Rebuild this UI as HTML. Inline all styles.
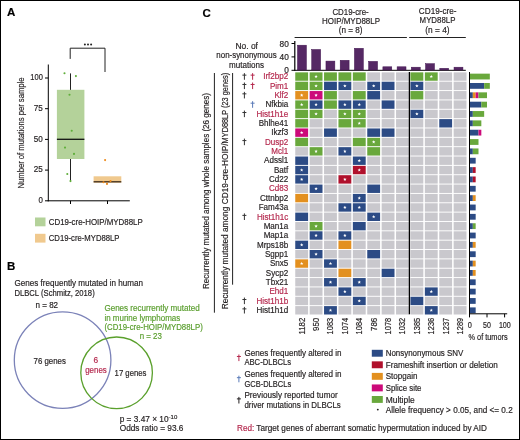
<!DOCTYPE html><html><head><meta charset="utf-8"><style>html,body{margin:0;padding:0;background:#fff}svg{display:block;will-change:transform}text{font-family:"Liberation Sans",sans-serif}</style></head><body>
<svg width="520" height="440" viewBox="0 0 520 440">
<rect x="0.5" y="0.5" width="519" height="439" fill="#fff" stroke="#000" stroke-width="1"/>
<text x="7.1" y="16.2" font-size="11.5" font-weight="bold" fill="#000" stroke="#000" stroke-width="0.18">A</text>
<text x="7.1" y="270.3" font-size="11.5" font-weight="bold" fill="#000" stroke="#000" stroke-width="0.18">B</text>
<text x="202.4" y="16.6" font-size="11.5" font-weight="bold" fill="#000" stroke="#000" stroke-width="0.18">C</text>
<g>
<line x1="48.3" y1="64.5" x2="48.3" y2="201.3" stroke="#000" stroke-width="1"/>
<line x1="47.8" y1="200.8" x2="129.8" y2="200.8" stroke="#000" stroke-width="1"/>
<line x1="45" y1="200.8" x2="48.3" y2="200.8" stroke="#000" stroke-width="1"/>
<text x="42.8" y="202.9" font-size="8.3" text-anchor="end" fill="#231f20" stroke="#231f20" stroke-width="0.18" textLength="4.4" lengthAdjust="spacingAndGlyphs">0</text>
<line x1="45" y1="170.1" x2="48.3" y2="170.1" stroke="#000" stroke-width="1"/>
<text x="42.8" y="172.2" font-size="8.3" text-anchor="end" fill="#231f20" stroke="#231f20" stroke-width="0.18" textLength="9" lengthAdjust="spacingAndGlyphs">25</text>
<line x1="45" y1="139.4" x2="48.3" y2="139.4" stroke="#000" stroke-width="1"/>
<text x="42.8" y="141.5" font-size="8.3" text-anchor="end" fill="#231f20" stroke="#231f20" stroke-width="0.18" textLength="9" lengthAdjust="spacingAndGlyphs">50</text>
<line x1="45" y1="108.7" x2="48.3" y2="108.7" stroke="#000" stroke-width="1"/>
<text x="42.8" y="110.8" font-size="8.3" text-anchor="end" fill="#231f20" stroke="#231f20" stroke-width="0.18" textLength="9" lengthAdjust="spacingAndGlyphs">75</text>
<line x1="45" y1="78.0" x2="48.3" y2="78.0" stroke="#000" stroke-width="1"/>
<text x="42.8" y="80.1" font-size="8.3" text-anchor="end" fill="#231f20" stroke="#231f20" stroke-width="0.18" textLength="12.5" lengthAdjust="spacingAndGlyphs">100</text>
<line x1="70.5" y1="200.8" x2="70.5" y2="204" stroke="#000" stroke-width="1"/>
<line x1="107.5" y1="200.8" x2="107.5" y2="204" stroke="#000" stroke-width="1"/>
<text transform="translate(23.5,133) rotate(-90)" font-size="8.2" text-anchor="middle" fill="#231f20" stroke="#231f20" stroke-width="0.18" textLength="111" lengthAdjust="spacingAndGlyphs">Number of mutations per sample</text>
<line x1="70.5" y1="73.4" x2="70.5" y2="181.6" stroke="#222" stroke-width="1"/>
<rect x="56.9" y="89.8" width="27.5" height="69.2" fill="#b4d29a"/>
<line x1="56.9" y1="139.3" x2="84.4" y2="139.3" stroke="#111" stroke-width="1.3"/>
<circle cx="64.5" cy="73.2" r="1.05" fill="#5fae3a"/>
<circle cx="75.9" cy="76.1" r="1.05" fill="#5fae3a"/>
<circle cx="69.5" cy="94.8" r="1.05" fill="#5fae3a"/>
<circle cx="71.7" cy="130.8" r="1.05" fill="#5fae3a"/>
<circle cx="65" cy="147.6" r="1.05" fill="#5fae3a"/>
<circle cx="74" cy="153.9" r="1.05" fill="#5fae3a"/>
<circle cx="67.3" cy="174" r="1.05" fill="#5fae3a"/>
<circle cx="70.5" cy="181.1" r="1.05" fill="#5fae3a"/>
<rect x="93.6" y="176.3" width="27.7" height="6.4" fill="#f0c98e"/>
<line x1="93.6" y1="181.8" x2="121.3" y2="181.8" stroke="#3a2a1a" stroke-width="1.3"/>
<circle cx="105.1" cy="160.1" r="1.05" fill="#ee8a1a"/>
<circle cx="103.5" cy="182.3" r="1.05" fill="#ee8a1a"/>
<circle cx="107" cy="183.9" r="1.05" fill="#ee8a1a"/>
<circle cx="110.5" cy="181.1" r="1.05" fill="#ee8a1a"/>
<path d="M70.2 58.9 V48.2 H105 V72" fill="none" stroke="#222" stroke-width="1"/>
<circle cx="84.9" cy="44.5" r="1.0" fill="#222"/>
<circle cx="88.0" cy="44.5" r="1.0" fill="#222"/>
<circle cx="91.1" cy="44.5" r="1.0" fill="#222"/>
<rect x="35" y="217.5" width="10.5" height="8.8" fill="#b4d29a"/>
<text x="48.75" y="224.7" font-size="8.5" fill="#231f20" stroke="#231f20" stroke-width="0.18" textLength="94" lengthAdjust="spacingAndGlyphs">CD19-cre-HOIP/MYD88LP</text>
<rect x="35" y="233.8" width="10.5" height="8.8" fill="#f0c98e"/>
<text x="48.75" y="240.9" font-size="8.5" fill="#231f20" stroke="#231f20" stroke-width="0.18" textLength="70.75" lengthAdjust="spacingAndGlyphs">CD19-cre-MYD88LP</text>
</g>
<g>
<text x="14.4" y="285.9" font-size="8.3" fill="#231f20" stroke="#231f20" stroke-width="0.18" textLength="128.6" lengthAdjust="spacingAndGlyphs">Genes frequently mutated in human</text>
<text x="14.4" y="295.6" font-size="8.3" fill="#231f20" stroke="#231f20" stroke-width="0.18" textLength="80.3" lengthAdjust="spacingAndGlyphs">DLBCL (Schmitz, 2018)</text>
<text x="35.5" y="307.6" font-size="8.3" fill="#231f20" stroke="#231f20" stroke-width="0.18" textLength="22.6" lengthAdjust="spacingAndGlyphs">n = 82</text>
<text x="104.4" y="311" font-size="8.3" fill="#5a9e2e" stroke="#5a9e2e" stroke-width="0.18" textLength="95.3" lengthAdjust="spacingAndGlyphs">Genes recurrently mutated</text>
<text x="104.4" y="320.5" font-size="8.3" fill="#5a9e2e" stroke="#5a9e2e" stroke-width="0.18" textLength="75.9" lengthAdjust="spacingAndGlyphs">in murine lymphomas</text>
<text x="104.4" y="330" font-size="8.3" fill="#5a9e2e" stroke="#5a9e2e" stroke-width="0.18" textLength="98.4" lengthAdjust="spacingAndGlyphs">(CD19-cre-HOIP/MYD88LP)</text>
<text x="139.7" y="339.1" font-size="8.3" fill="#5a9e2e" stroke="#5a9e2e" stroke-width="0.18" textLength="22.2" lengthAdjust="spacingAndGlyphs">n = 23</text>
<circle cx="62.6" cy="360.1" r="48.3" fill="none" stroke="#7b82b8" stroke-width="1.3"/>
<circle cx="116.6" cy="372.8" r="35.8" fill="none" stroke="#5aa02c" stroke-width="1.3"/>
<text x="33.6" y="363.5" font-size="8.3" fill="#231f20" stroke="#231f20" stroke-width="0.18" textLength="32.3" lengthAdjust="spacingAndGlyphs">76 genes</text>
<text x="95.9" y="362.8" font-size="8.3" text-anchor="middle" fill="#b5294e" stroke="#b5294e" stroke-width="0.18">6</text>
<text x="85.2" y="372.5" font-size="8.3" fill="#b5294e" stroke="#b5294e" stroke-width="0.18" textLength="21.6" lengthAdjust="spacingAndGlyphs">genes</text>
<text x="114.6" y="375.7" font-size="8.3" fill="#231f20" stroke="#231f20" stroke-width="0.18" textLength="31.9" lengthAdjust="spacingAndGlyphs">17 genes</text>
<text x="119.7" y="422" font-size="8.3" fill="#231f20" stroke="#231f20" stroke-width="0.18">p = 3.47 × 10<tspan dy="-3" font-size="6">-10</tspan></text>
<text x="119.7" y="431.3" font-size="8.3" fill="#231f20" stroke="#231f20" stroke-width="0.18" textLength="63.8" lengthAdjust="spacingAndGlyphs">Odds ratio = 93.6</text>
</g>
<g>
<text x="350.6" y="14.9" font-size="8.5" text-anchor="middle" fill="#231f20" stroke="#231f20" stroke-width="0.18" textLength="36.3" lengthAdjust="spacingAndGlyphs">CD19-cre-</text>
<text x="351" y="23.8" font-size="8.5" text-anchor="middle" fill="#231f20" stroke="#231f20" stroke-width="0.18" textLength="58" lengthAdjust="spacingAndGlyphs">HOIP/MYD88LP</text>
<text x="350.6" y="33" font-size="8.5" text-anchor="middle" fill="#231f20" stroke="#231f20" stroke-width="0.18" textLength="23.75" lengthAdjust="spacingAndGlyphs">(n = 8)</text>
<text x="437.7" y="14.3" font-size="8.5" text-anchor="middle" fill="#231f20" stroke="#231f20" stroke-width="0.18" textLength="37.7" lengthAdjust="spacingAndGlyphs">CD19-cre-</text>
<text x="437.5" y="23.3" font-size="8.5" text-anchor="middle" fill="#231f20" stroke="#231f20" stroke-width="0.18" textLength="35.8" lengthAdjust="spacingAndGlyphs">MYD88LP</text>
<text x="437.5" y="33" font-size="8.5" text-anchor="middle" fill="#231f20" stroke="#231f20" stroke-width="0.18" textLength="24.3" lengthAdjust="spacingAndGlyphs">(n = 4)</text>
<line x1="294.6" y1="37.5" x2="406.9" y2="37.5" stroke="#222" stroke-width="1"/>
<line x1="409.2" y1="37.5" x2="465.8" y2="37.5" stroke="#222" stroke-width="1"/>
<text x="246.7" y="48.5" font-size="8.5" text-anchor="middle" fill="#231f20" stroke="#231f20" stroke-width="0.18" textLength="22.5" lengthAdjust="spacingAndGlyphs">No. of</text>
<text x="246.5" y="58.4" font-size="8.5" text-anchor="middle" fill="#231f20" stroke="#231f20" stroke-width="0.18" textLength="60.3" lengthAdjust="spacingAndGlyphs">non-synonymous</text>
<text x="246.5" y="67.5" font-size="8.5" text-anchor="middle" fill="#231f20" stroke="#231f20" stroke-width="0.18" textLength="34.9" lengthAdjust="spacingAndGlyphs">mutations</text>
<line x1="294.8" y1="41.1" x2="294.8" y2="70.8" stroke="#000" stroke-width="1.2"/>
<line x1="294.4" y1="70.3" x2="465.8" y2="70.3" stroke="#000" stroke-width="1"/>
<line x1="291.5" y1="43.5" x2="294.9" y2="43.5" stroke="#000" stroke-width="1"/>
<text x="288.8" y="46.5" font-size="8.3" text-anchor="end" fill="#231f20" stroke="#231f20" stroke-width="0.18">80</text>
<line x1="291.5" y1="56.9" x2="294.9" y2="56.9" stroke="#000" stroke-width="1"/>
<text x="288.8" y="59.9" font-size="8.3" text-anchor="end" fill="#231f20" stroke="#231f20" stroke-width="0.18">40</text>
<line x1="291.5" y1="70.3" x2="294.9" y2="70.3" stroke="#000" stroke-width="1"/>
<text x="288.8" y="73.3" font-size="8.3" text-anchor="end" fill="#231f20" stroke="#231f20" stroke-width="0.18">0</text>
<rect x="297.50" y="45.20" width="8.9" height="24.80" fill="#552864" stroke="#40124f" stroke-width="0.5"/>
<rect x="311.73" y="49.50" width="8.9" height="20.50" fill="#552864" stroke="#40124f" stroke-width="0.5"/>
<rect x="325.96" y="61.10" width="8.9" height="8.90" fill="#552864" stroke="#40124f" stroke-width="0.5"/>
<rect x="340.19" y="60.30" width="8.9" height="9.70" fill="#552864" stroke="#40124f" stroke-width="0.5"/>
<rect x="354.42" y="48.30" width="8.9" height="21.70" fill="#552864" stroke="#40124f" stroke-width="0.5"/>
<rect x="368.65" y="61.40" width="8.9" height="8.60" fill="#552864" stroke="#40124f" stroke-width="0.5"/>
<rect x="382.88" y="66.80" width="8.9" height="3.20" fill="#552864" stroke="#40124f" stroke-width="0.5"/>
<rect x="397.11" y="66.80" width="8.9" height="3.20" fill="#552864" stroke="#40124f" stroke-width="0.5"/>
<rect x="411.34" y="67.20" width="8.9" height="2.80" fill="#552864" stroke="#40124f" stroke-width="0.5"/>
<rect x="425.57" y="63.70" width="8.9" height="6.30" fill="#552864" stroke="#40124f" stroke-width="0.5"/>
<rect x="439.80" y="68.30" width="8.9" height="1.70" fill="#552864" stroke="#40124f" stroke-width="0.5"/>
<rect x="454.03" y="67.20" width="8.9" height="2.80" fill="#552864" stroke="#40124f" stroke-width="0.5"/>
<rect x="295.25" y="72.35" width="12.85" height="8.4" fill="#69a83c"/>
<rect x="309.65" y="72.35" width="12.85" height="8.4" fill="#69a83c"/>
<polygon transform="translate(316.07,76.55)" points="0.00,-1.75 0.47,-0.65 1.66,-0.54 0.76,0.25 1.03,1.42 0.00,0.80 -1.03,1.42 -0.76,0.25 -1.66,-0.54 -0.47,-0.65" fill="#fff"/>
<rect x="324.05" y="72.35" width="12.85" height="8.4" fill="#69a83c"/>
<rect x="338.45" y="72.35" width="12.85" height="8.4" fill="#69a83c"/>
<rect x="352.85" y="72.35" width="12.85" height="8.4" fill="#69a83c"/>
<rect x="367.25" y="72.35" width="12.85" height="8.4" fill="#c9c8cd"/>
<rect x="381.65" y="72.35" width="12.85" height="8.4" fill="#c9c8cd"/>
<rect x="396.05" y="72.35" width="12.85" height="8.4" fill="#c9c8cd"/>
<rect x="410.45" y="72.35" width="12.85" height="8.4" fill="#69a83c"/>
<rect x="424.85" y="72.35" width="12.85" height="8.4" fill="#69a83c"/>
<polygon transform="translate(431.28,76.55)" points="0.00,-1.75 0.47,-0.65 1.66,-0.54 0.76,0.25 1.03,1.42 0.00,0.80 -1.03,1.42 -0.76,0.25 -1.66,-0.54 -0.47,-0.65" fill="#fff"/>
<rect x="439.25" y="72.35" width="12.85" height="8.4" fill="#c9c8cd"/>
<rect x="453.65" y="72.35" width="12.85" height="8.4" fill="#c9c8cd"/>
<text transform="translate(288.3,79.25) scale(0.94,1)" font-size="8.6" text-anchor="end" fill="#b5294e" stroke="#b5294e" stroke-width="0.18">Irf2bp2</text>
<path d="M244.40 73.15V79.75M242.40 75.13H246.40" stroke="#333" stroke-width="1.0" fill="none"/>
<path d="M252.60 73.15V79.75M250.60 75.13H254.60" stroke="#b5294e" stroke-width="1.0" fill="none"/>
<rect x="470.00" y="73.65" width="19.83" height="5.8" fill="#69a83c"/>
<rect x="295.25" y="81.70" width="12.85" height="8.4" fill="#69a83c"/>
<rect x="309.65" y="81.70" width="12.85" height="8.4" fill="#69a83c"/>
<polygon transform="translate(316.07,85.90)" points="0.00,-1.75 0.47,-0.65 1.66,-0.54 0.76,0.25 1.03,1.42 0.00,0.80 -1.03,1.42 -0.76,0.25 -1.66,-0.54 -0.47,-0.65" fill="#fff"/>
<rect x="324.05" y="81.70" width="12.85" height="8.4" fill="#2c4b85"/>
<rect x="338.45" y="81.70" width="12.85" height="8.4" fill="#2c4b85"/>
<polygon transform="translate(344.88,85.90)" points="0.00,-1.75 0.47,-0.65 1.66,-0.54 0.76,0.25 1.03,1.42 0.00,0.80 -1.03,1.42 -0.76,0.25 -1.66,-0.54 -0.47,-0.65" fill="#fff"/>
<rect x="352.85" y="81.70" width="12.85" height="8.4" fill="#c9c8cd"/>
<rect x="367.25" y="81.70" width="12.85" height="8.4" fill="#2c4b85"/>
<polygon transform="translate(373.68,85.90)" points="0.00,-1.75 0.47,-0.65 1.66,-0.54 0.76,0.25 1.03,1.42 0.00,0.80 -1.03,1.42 -0.76,0.25 -1.66,-0.54 -0.47,-0.65" fill="#fff"/>
<rect x="381.65" y="81.70" width="12.85" height="8.4" fill="#2c4b85"/>
<rect x="396.05" y="81.70" width="12.85" height="8.4" fill="#c9c8cd"/>
<rect x="410.45" y="81.70" width="12.85" height="8.4" fill="#2c4b85"/>
<polygon transform="translate(416.88,85.90)" points="0.00,-1.75 0.47,-0.65 1.66,-0.54 0.76,0.25 1.03,1.42 0.00,0.80 -1.03,1.42 -0.76,0.25 -1.66,-0.54 -0.47,-0.65" fill="#fff"/>
<rect x="424.85" y="81.70" width="12.85" height="8.4" fill="#c9c8cd"/>
<rect x="439.25" y="81.70" width="12.85" height="8.4" fill="#c9c8cd"/>
<rect x="453.65" y="81.70" width="12.85" height="8.4" fill="#c9c8cd"/>
<text transform="translate(288.3,88.60) scale(0.94,1)" font-size="8.6" text-anchor="end" fill="#b5294e" stroke="#b5294e" stroke-width="0.18">Pim1</text>
<path d="M244.40 82.50V89.10M242.40 84.48H246.40" stroke="#333" stroke-width="1.0" fill="none"/>
<path d="M252.60 82.50V89.10M250.60 84.48H254.60" stroke="#b5294e" stroke-width="1.0" fill="none"/>
<rect x="470.00" y="83.00" width="14.17" height="5.8" fill="#2c4b85"/>
<rect x="484.17" y="83.00" width="5.67" height="5.8" fill="#69a83c"/>
<rect x="295.25" y="91.05" width="12.85" height="8.4" fill="#e3901f"/>
<polygon transform="translate(301.68,95.25)" points="0.00,-1.75 0.47,-0.65 1.66,-0.54 0.76,0.25 1.03,1.42 0.00,0.80 -1.03,1.42 -0.76,0.25 -1.66,-0.54 -0.47,-0.65" fill="#fff"/>
<rect x="309.65" y="91.05" width="12.85" height="8.4" fill="#cc0a7a"/>
<polygon transform="translate(316.07,95.25)" points="0.00,-1.75 0.47,-0.65 1.66,-0.54 0.76,0.25 1.03,1.42 0.00,0.80 -1.03,1.42 -0.76,0.25 -1.66,-0.54 -0.47,-0.65" fill="#fff"/>
<rect x="324.05" y="91.05" width="12.85" height="8.4" fill="#69a83c"/>
<rect x="338.45" y="91.05" width="12.85" height="8.4" fill="#c9c8cd"/>
<rect x="352.85" y="91.05" width="12.85" height="8.4" fill="#69a83c"/>
<rect x="367.25" y="91.05" width="12.85" height="8.4" fill="#2c4b85"/>
<rect x="381.65" y="91.05" width="12.85" height="8.4" fill="#c9c8cd"/>
<rect x="396.05" y="91.05" width="12.85" height="8.4" fill="#c9c8cd"/>
<rect x="410.45" y="91.05" width="12.85" height="8.4" fill="#69a83c"/>
<rect x="424.85" y="91.05" width="12.85" height="8.4" fill="#c9c8cd"/>
<rect x="439.25" y="91.05" width="12.85" height="8.4" fill="#c9c8cd"/>
<rect x="453.65" y="91.05" width="12.85" height="8.4" fill="#c9c8cd"/>
<text transform="translate(288.3,97.95) scale(0.94,1)" font-size="8.6" text-anchor="end" fill="#b5294e" stroke="#b5294e" stroke-width="0.18">Klf2</text>
<path d="M244.40 91.85V98.45M242.40 93.83H246.40" stroke="#333" stroke-width="1.0" fill="none"/>
<rect x="470.00" y="92.35" width="2.83" height="5.8" fill="#2c4b85"/>
<rect x="472.83" y="92.35" width="2.83" height="5.8" fill="#e3901f"/>
<rect x="475.67" y="92.35" width="2.83" height="5.8" fill="#cc0a7a"/>
<rect x="478.50" y="92.35" width="8.50" height="5.8" fill="#69a83c"/>
<rect x="295.25" y="100.40" width="12.85" height="8.4" fill="#69a83c"/>
<polygon transform="translate(301.68,104.60)" points="0.00,-1.75 0.47,-0.65 1.66,-0.54 0.76,0.25 1.03,1.42 0.00,0.80 -1.03,1.42 -0.76,0.25 -1.66,-0.54 -0.47,-0.65" fill="#fff"/>
<rect x="309.65" y="100.40" width="12.85" height="8.4" fill="#2c4b85"/>
<polygon transform="translate(316.07,104.60)" points="0.00,-1.75 0.47,-0.65 1.66,-0.54 0.76,0.25 1.03,1.42 0.00,0.80 -1.03,1.42 -0.76,0.25 -1.66,-0.54 -0.47,-0.65" fill="#fff"/>
<rect x="324.05" y="100.40" width="12.85" height="8.4" fill="#69a83c"/>
<rect x="338.45" y="100.40" width="12.85" height="8.4" fill="#2c4b85"/>
<polygon transform="translate(344.88,104.60)" points="0.00,-1.75 0.47,-0.65 1.66,-0.54 0.76,0.25 1.03,1.42 0.00,0.80 -1.03,1.42 -0.76,0.25 -1.66,-0.54 -0.47,-0.65" fill="#fff"/>
<rect x="352.85" y="100.40" width="12.85" height="8.4" fill="#2c4b85"/>
<polygon transform="translate(359.28,104.60)" points="0.00,-1.75 0.47,-0.65 1.66,-0.54 0.76,0.25 1.03,1.42 0.00,0.80 -1.03,1.42 -0.76,0.25 -1.66,-0.54 -0.47,-0.65" fill="#fff"/>
<rect x="367.25" y="100.40" width="12.85" height="8.4" fill="#c9c8cd"/>
<rect x="381.65" y="100.40" width="12.85" height="8.4" fill="#2c4b85"/>
<rect x="396.05" y="100.40" width="12.85" height="8.4" fill="#c9c8cd"/>
<rect x="410.45" y="100.40" width="12.85" height="8.4" fill="#c9c8cd"/>
<rect x="424.85" y="100.40" width="12.85" height="8.4" fill="#c9c8cd"/>
<rect x="439.25" y="100.40" width="12.85" height="8.4" fill="#c9c8cd"/>
<rect x="453.65" y="100.40" width="12.85" height="8.4" fill="#c9c8cd"/>
<text transform="translate(288.3,107.30) scale(0.94,1)" font-size="8.6" text-anchor="end" fill="#231f20" stroke="#231f20" stroke-width="0.18">Nfkbia</text>
<path d="M252.60 101.20V107.80M250.60 103.18H254.60" stroke="#5a7ab8" stroke-width="1.0" fill="none"/>
<rect x="470.00" y="101.70" width="11.33" height="5.8" fill="#2c4b85"/>
<rect x="481.33" y="101.70" width="5.67" height="5.8" fill="#69a83c"/>
<rect x="295.25" y="109.75" width="12.85" height="8.4" fill="#69a83c"/>
<rect x="309.65" y="109.75" width="12.85" height="8.4" fill="#69a83c"/>
<polygon transform="translate(316.07,113.95)" points="0.00,-1.75 0.47,-0.65 1.66,-0.54 0.76,0.25 1.03,1.42 0.00,0.80 -1.03,1.42 -0.76,0.25 -1.66,-0.54 -0.47,-0.65" fill="#fff"/>
<rect x="324.05" y="109.75" width="12.85" height="8.4" fill="#c9c8cd"/>
<rect x="338.45" y="109.75" width="12.85" height="8.4" fill="#69a83c"/>
<polygon transform="translate(344.88,113.95)" points="0.00,-1.75 0.47,-0.65 1.66,-0.54 0.76,0.25 1.03,1.42 0.00,0.80 -1.03,1.42 -0.76,0.25 -1.66,-0.54 -0.47,-0.65" fill="#fff"/>
<rect x="352.85" y="109.75" width="12.85" height="8.4" fill="#69a83c"/>
<polygon transform="translate(359.28,113.95)" points="0.00,-1.75 0.47,-0.65 1.66,-0.54 0.76,0.25 1.03,1.42 0.00,0.80 -1.03,1.42 -0.76,0.25 -1.66,-0.54 -0.47,-0.65" fill="#fff"/>
<rect x="367.25" y="109.75" width="12.85" height="8.4" fill="#c9c8cd"/>
<rect x="381.65" y="109.75" width="12.85" height="8.4" fill="#c9c8cd"/>
<rect x="396.05" y="109.75" width="12.85" height="8.4" fill="#c9c8cd"/>
<rect x="410.45" y="109.75" width="12.85" height="8.4" fill="#2c4b85"/>
<polygon transform="translate(416.88,113.95)" points="0.00,-1.75 0.47,-0.65 1.66,-0.54 0.76,0.25 1.03,1.42 0.00,0.80 -1.03,1.42 -0.76,0.25 -1.66,-0.54 -0.47,-0.65" fill="#fff"/>
<rect x="424.85" y="109.75" width="12.85" height="8.4" fill="#c9c8cd"/>
<rect x="439.25" y="109.75" width="12.85" height="8.4" fill="#c9c8cd"/>
<rect x="453.65" y="109.75" width="12.85" height="8.4" fill="#c9c8cd"/>
<text transform="translate(288.3,116.65) scale(0.94,1)" font-size="8.6" text-anchor="end" fill="#b5294e" stroke="#b5294e" stroke-width="0.18">Hist1h1e</text>
<path d="M244.40 110.55V117.15M242.40 112.53H246.40" stroke="#333" stroke-width="1.0" fill="none"/>
<rect x="470.00" y="111.05" width="2.83" height="5.8" fill="#2c4b85"/>
<rect x="472.83" y="111.05" width="11.33" height="5.8" fill="#69a83c"/>
<rect x="295.25" y="119.10" width="12.85" height="8.4" fill="#69a83c"/>
<rect x="309.65" y="119.10" width="12.85" height="8.4" fill="#c9c8cd"/>
<rect x="324.05" y="119.10" width="12.85" height="8.4" fill="#c9c8cd"/>
<rect x="338.45" y="119.10" width="12.85" height="8.4" fill="#69a83c"/>
<rect x="352.85" y="119.10" width="12.85" height="8.4" fill="#69a83c"/>
<polygon transform="translate(359.28,123.30)" points="0.00,-1.75 0.47,-0.65 1.66,-0.54 0.76,0.25 1.03,1.42 0.00,0.80 -1.03,1.42 -0.76,0.25 -1.66,-0.54 -0.47,-0.65" fill="#fff"/>
<rect x="367.25" y="119.10" width="12.85" height="8.4" fill="#c9c8cd"/>
<rect x="381.65" y="119.10" width="12.85" height="8.4" fill="#c9c8cd"/>
<rect x="396.05" y="119.10" width="12.85" height="8.4" fill="#c9c8cd"/>
<rect x="410.45" y="119.10" width="12.85" height="8.4" fill="#c9c8cd"/>
<rect x="424.85" y="119.10" width="12.85" height="8.4" fill="#c9c8cd"/>
<rect x="439.25" y="119.10" width="12.85" height="8.4" fill="#2c4b85"/>
<rect x="453.65" y="119.10" width="12.85" height="8.4" fill="#c9c8cd"/>
<text transform="translate(288.3,126.00) scale(0.94,1)" font-size="8.6" text-anchor="end" fill="#231f20" stroke="#231f20" stroke-width="0.18">Bhlhe41</text>
<rect x="470.00" y="120.40" width="2.83" height="5.8" fill="#2c4b85"/>
<rect x="472.83" y="120.40" width="8.50" height="5.8" fill="#69a83c"/>
<rect x="295.25" y="128.45" width="12.85" height="8.4" fill="#cc0a7a"/>
<polygon transform="translate(301.68,132.65)" points="0.00,-1.75 0.47,-0.65 1.66,-0.54 0.76,0.25 1.03,1.42 0.00,0.80 -1.03,1.42 -0.76,0.25 -1.66,-0.54 -0.47,-0.65" fill="#fff"/>
<rect x="309.65" y="128.45" width="12.85" height="8.4" fill="#c9c8cd"/>
<rect x="324.05" y="128.45" width="12.85" height="8.4" fill="#2c4b85"/>
<rect x="338.45" y="128.45" width="12.85" height="8.4" fill="#c9c8cd"/>
<rect x="352.85" y="128.45" width="12.85" height="8.4" fill="#c9c8cd"/>
<rect x="367.25" y="128.45" width="12.85" height="8.4" fill="#2c4b85"/>
<rect x="381.65" y="128.45" width="12.85" height="8.4" fill="#2c4b85"/>
<rect x="396.05" y="128.45" width="12.85" height="8.4" fill="#c9c8cd"/>
<rect x="410.45" y="128.45" width="12.85" height="8.4" fill="#c9c8cd"/>
<rect x="424.85" y="128.45" width="12.85" height="8.4" fill="#c9c8cd"/>
<rect x="439.25" y="128.45" width="12.85" height="8.4" fill="#c9c8cd"/>
<rect x="453.65" y="128.45" width="12.85" height="8.4" fill="#c9c8cd"/>
<text transform="translate(288.3,135.35) scale(0.94,1)" font-size="8.6" text-anchor="end" fill="#231f20" stroke="#231f20" stroke-width="0.18">Ikzf3</text>
<rect x="470.00" y="129.75" width="8.50" height="5.8" fill="#2c4b85"/>
<rect x="478.50" y="129.75" width="2.83" height="5.8" fill="#cc0a7a"/>
<rect x="295.25" y="137.80" width="12.85" height="8.4" fill="#69a83c"/>
<rect x="309.65" y="137.80" width="12.85" height="8.4" fill="#c9c8cd"/>
<rect x="324.05" y="137.80" width="12.85" height="8.4" fill="#c9c8cd"/>
<rect x="338.45" y="137.80" width="12.85" height="8.4" fill="#c9c8cd"/>
<rect x="352.85" y="137.80" width="12.85" height="8.4" fill="#69a83c"/>
<rect x="367.25" y="137.80" width="12.85" height="8.4" fill="#69a83c"/>
<polygon transform="translate(373.68,142.00)" points="0.00,-1.75 0.47,-0.65 1.66,-0.54 0.76,0.25 1.03,1.42 0.00,0.80 -1.03,1.42 -0.76,0.25 -1.66,-0.54 -0.47,-0.65" fill="#fff"/>
<rect x="381.65" y="137.80" width="12.85" height="8.4" fill="#c9c8cd"/>
<rect x="396.05" y="137.80" width="12.85" height="8.4" fill="#c9c8cd"/>
<rect x="410.45" y="137.80" width="12.85" height="8.4" fill="#c9c8cd"/>
<rect x="424.85" y="137.80" width="12.85" height="8.4" fill="#c9c8cd"/>
<rect x="439.25" y="137.80" width="12.85" height="8.4" fill="#c9c8cd"/>
<rect x="453.65" y="137.80" width="12.85" height="8.4" fill="#c9c8cd"/>
<text transform="translate(288.3,144.70) scale(0.94,1)" font-size="8.6" text-anchor="end" fill="#b5294e" stroke="#b5294e" stroke-width="0.18">Dusp2</text>
<path d="M244.40 138.60V145.20M242.40 140.58H246.40" stroke="#333" stroke-width="1.0" fill="none"/>
<rect x="470.00" y="139.10" width="8.50" height="5.8" fill="#69a83c"/>
<rect x="295.25" y="147.15" width="12.85" height="8.4" fill="#c9c8cd"/>
<rect x="309.65" y="147.15" width="12.85" height="8.4" fill="#69a83c"/>
<polygon transform="translate(316.07,151.35)" points="0.00,-1.75 0.47,-0.65 1.66,-0.54 0.76,0.25 1.03,1.42 0.00,0.80 -1.03,1.42 -0.76,0.25 -1.66,-0.54 -0.47,-0.65" fill="#fff"/>
<rect x="324.05" y="147.15" width="12.85" height="8.4" fill="#c9c8cd"/>
<rect x="338.45" y="147.15" width="12.85" height="8.4" fill="#2c4b85"/>
<polygon transform="translate(344.88,151.35)" points="0.00,-1.75 0.47,-0.65 1.66,-0.54 0.76,0.25 1.03,1.42 0.00,0.80 -1.03,1.42 -0.76,0.25 -1.66,-0.54 -0.47,-0.65" fill="#fff"/>
<rect x="352.85" y="147.15" width="12.85" height="8.4" fill="#c9c8cd"/>
<rect x="367.25" y="147.15" width="12.85" height="8.4" fill="#69a83c"/>
<rect x="381.65" y="147.15" width="12.85" height="8.4" fill="#c9c8cd"/>
<rect x="396.05" y="147.15" width="12.85" height="8.4" fill="#c9c8cd"/>
<rect x="410.45" y="147.15" width="12.85" height="8.4" fill="#c9c8cd"/>
<rect x="424.85" y="147.15" width="12.85" height="8.4" fill="#c9c8cd"/>
<rect x="439.25" y="147.15" width="12.85" height="8.4" fill="#c9c8cd"/>
<rect x="453.65" y="147.15" width="12.85" height="8.4" fill="#c9c8cd"/>
<text transform="translate(288.3,154.05) scale(0.94,1)" font-size="8.6" text-anchor="end" fill="#b5294e" stroke="#b5294e" stroke-width="0.18">Mcl1</text>
<rect x="470.00" y="148.45" width="2.83" height="5.8" fill="#2c4b85"/>
<rect x="472.83" y="148.45" width="5.67" height="5.8" fill="#69a83c"/>
<rect x="295.25" y="156.50" width="12.85" height="8.4" fill="#2c4b85"/>
<rect x="309.65" y="156.50" width="12.85" height="8.4" fill="#c9c8cd"/>
<rect x="324.05" y="156.50" width="12.85" height="8.4" fill="#c9c8cd"/>
<rect x="338.45" y="156.50" width="12.85" height="8.4" fill="#c9c8cd"/>
<rect x="352.85" y="156.50" width="12.85" height="8.4" fill="#2c4b85"/>
<polygon transform="translate(359.28,160.70)" points="0.00,-1.75 0.47,-0.65 1.66,-0.54 0.76,0.25 1.03,1.42 0.00,0.80 -1.03,1.42 -0.76,0.25 -1.66,-0.54 -0.47,-0.65" fill="#fff"/>
<rect x="367.25" y="156.50" width="12.85" height="8.4" fill="#c9c8cd"/>
<rect x="381.65" y="156.50" width="12.85" height="8.4" fill="#c9c8cd"/>
<rect x="396.05" y="156.50" width="12.85" height="8.4" fill="#c9c8cd"/>
<rect x="410.45" y="156.50" width="12.85" height="8.4" fill="#c9c8cd"/>
<rect x="424.85" y="156.50" width="12.85" height="8.4" fill="#c9c8cd"/>
<rect x="439.25" y="156.50" width="12.85" height="8.4" fill="#c9c8cd"/>
<rect x="453.65" y="156.50" width="12.85" height="8.4" fill="#c9c8cd"/>
<text transform="translate(288.3,163.40) scale(0.94,1)" font-size="8.6" text-anchor="end" fill="#231f20" stroke="#231f20" stroke-width="0.18">Adssl1</text>
<rect x="470.00" y="157.80" width="5.67" height="5.8" fill="#2c4b85"/>
<rect x="295.25" y="165.85" width="12.85" height="8.4" fill="#2c4b85"/>
<polygon transform="translate(301.68,170.05)" points="0.00,-1.75 0.47,-0.65 1.66,-0.54 0.76,0.25 1.03,1.42 0.00,0.80 -1.03,1.42 -0.76,0.25 -1.66,-0.54 -0.47,-0.65" fill="#fff"/>
<rect x="309.65" y="165.85" width="12.85" height="8.4" fill="#c9c8cd"/>
<rect x="324.05" y="165.85" width="12.85" height="8.4" fill="#c9c8cd"/>
<rect x="338.45" y="165.85" width="12.85" height="8.4" fill="#c9c8cd"/>
<rect x="352.85" y="165.85" width="12.85" height="8.4" fill="#b0102c"/>
<polygon transform="translate(359.28,170.05)" points="0.00,-1.75 0.47,-0.65 1.66,-0.54 0.76,0.25 1.03,1.42 0.00,0.80 -1.03,1.42 -0.76,0.25 -1.66,-0.54 -0.47,-0.65" fill="#fff"/>
<rect x="367.25" y="165.85" width="12.85" height="8.4" fill="#c9c8cd"/>
<rect x="381.65" y="165.85" width="12.85" height="8.4" fill="#c9c8cd"/>
<rect x="396.05" y="165.85" width="12.85" height="8.4" fill="#c9c8cd"/>
<rect x="410.45" y="165.85" width="12.85" height="8.4" fill="#c9c8cd"/>
<rect x="424.85" y="165.85" width="12.85" height="8.4" fill="#c9c8cd"/>
<rect x="439.25" y="165.85" width="12.85" height="8.4" fill="#c9c8cd"/>
<rect x="453.65" y="165.85" width="12.85" height="8.4" fill="#c9c8cd"/>
<text transform="translate(288.3,172.75) scale(0.94,1)" font-size="8.6" text-anchor="end" fill="#231f20" stroke="#231f20" stroke-width="0.18">Batf</text>
<rect x="470.00" y="167.15" width="2.83" height="5.8" fill="#2c4b85"/>
<rect x="472.83" y="167.15" width="2.83" height="5.8" fill="#b0102c"/>
<rect x="295.25" y="175.20" width="12.85" height="8.4" fill="#2c4b85"/>
<polygon transform="translate(301.68,179.40)" points="0.00,-1.75 0.47,-0.65 1.66,-0.54 0.76,0.25 1.03,1.42 0.00,0.80 -1.03,1.42 -0.76,0.25 -1.66,-0.54 -0.47,-0.65" fill="#fff"/>
<rect x="309.65" y="175.20" width="12.85" height="8.4" fill="#c9c8cd"/>
<rect x="324.05" y="175.20" width="12.85" height="8.4" fill="#c9c8cd"/>
<rect x="338.45" y="175.20" width="12.85" height="8.4" fill="#b0102c"/>
<polygon transform="translate(344.88,179.40)" points="0.00,-1.75 0.47,-0.65 1.66,-0.54 0.76,0.25 1.03,1.42 0.00,0.80 -1.03,1.42 -0.76,0.25 -1.66,-0.54 -0.47,-0.65" fill="#fff"/>
<rect x="352.85" y="175.20" width="12.85" height="8.4" fill="#c9c8cd"/>
<rect x="367.25" y="175.20" width="12.85" height="8.4" fill="#c9c8cd"/>
<rect x="381.65" y="175.20" width="12.85" height="8.4" fill="#c9c8cd"/>
<rect x="396.05" y="175.20" width="12.85" height="8.4" fill="#c9c8cd"/>
<rect x="410.45" y="175.20" width="12.85" height="8.4" fill="#c9c8cd"/>
<rect x="424.85" y="175.20" width="12.85" height="8.4" fill="#c9c8cd"/>
<rect x="439.25" y="175.20" width="12.85" height="8.4" fill="#c9c8cd"/>
<rect x="453.65" y="175.20" width="12.85" height="8.4" fill="#c9c8cd"/>
<text transform="translate(288.3,182.10) scale(0.94,1)" font-size="8.6" text-anchor="end" fill="#231f20" stroke="#231f20" stroke-width="0.18">Cd22</text>
<rect x="470.00" y="176.50" width="2.83" height="5.8" fill="#2c4b85"/>
<rect x="472.83" y="176.50" width="2.83" height="5.8" fill="#b0102c"/>
<rect x="295.25" y="184.55" width="12.85" height="8.4" fill="#c9c8cd"/>
<rect x="309.65" y="184.55" width="12.85" height="8.4" fill="#2c4b85"/>
<polygon transform="translate(316.07,188.75)" points="0.00,-1.75 0.47,-0.65 1.66,-0.54 0.76,0.25 1.03,1.42 0.00,0.80 -1.03,1.42 -0.76,0.25 -1.66,-0.54 -0.47,-0.65" fill="#fff"/>
<rect x="324.05" y="184.55" width="12.85" height="8.4" fill="#c9c8cd"/>
<rect x="338.45" y="184.55" width="12.85" height="8.4" fill="#c9c8cd"/>
<rect x="352.85" y="184.55" width="12.85" height="8.4" fill="#c9c8cd"/>
<rect x="367.25" y="184.55" width="12.85" height="8.4" fill="#2c4b85"/>
<rect x="381.65" y="184.55" width="12.85" height="8.4" fill="#c9c8cd"/>
<rect x="396.05" y="184.55" width="12.85" height="8.4" fill="#c9c8cd"/>
<rect x="410.45" y="184.55" width="12.85" height="8.4" fill="#c9c8cd"/>
<rect x="424.85" y="184.55" width="12.85" height="8.4" fill="#c9c8cd"/>
<rect x="439.25" y="184.55" width="12.85" height="8.4" fill="#c9c8cd"/>
<rect x="453.65" y="184.55" width="12.85" height="8.4" fill="#c9c8cd"/>
<text transform="translate(288.3,191.45) scale(0.94,1)" font-size="8.6" text-anchor="end" fill="#b5294e" stroke="#b5294e" stroke-width="0.18">Cd83</text>
<rect x="470.00" y="185.85" width="5.67" height="5.8" fill="#2c4b85"/>
<rect x="295.25" y="193.90" width="12.85" height="8.4" fill="#e3901f"/>
<rect x="309.65" y="193.90" width="12.85" height="8.4" fill="#c9c8cd"/>
<rect x="324.05" y="193.90" width="12.85" height="8.4" fill="#c9c8cd"/>
<rect x="338.45" y="193.90" width="12.85" height="8.4" fill="#c9c8cd"/>
<rect x="352.85" y="193.90" width="12.85" height="8.4" fill="#2c4b85"/>
<polygon transform="translate(359.28,198.10)" points="0.00,-1.75 0.47,-0.65 1.66,-0.54 0.76,0.25 1.03,1.42 0.00,0.80 -1.03,1.42 -0.76,0.25 -1.66,-0.54 -0.47,-0.65" fill="#fff"/>
<rect x="367.25" y="193.90" width="12.85" height="8.4" fill="#c9c8cd"/>
<rect x="381.65" y="193.90" width="12.85" height="8.4" fill="#c9c8cd"/>
<rect x="396.05" y="193.90" width="12.85" height="8.4" fill="#c9c8cd"/>
<rect x="410.45" y="193.90" width="12.85" height="8.4" fill="#c9c8cd"/>
<rect x="424.85" y="193.90" width="12.85" height="8.4" fill="#c9c8cd"/>
<rect x="439.25" y="193.90" width="12.85" height="8.4" fill="#c9c8cd"/>
<rect x="453.65" y="193.90" width="12.85" height="8.4" fill="#c9c8cd"/>
<text transform="translate(288.3,200.80) scale(0.94,1)" font-size="8.6" text-anchor="end" fill="#231f20" stroke="#231f20" stroke-width="0.18">Cttnbp2</text>
<rect x="470.00" y="195.20" width="2.83" height="5.8" fill="#2c4b85"/>
<rect x="472.83" y="195.20" width="2.83" height="5.8" fill="#e3901f"/>
<rect x="295.25" y="203.25" width="12.85" height="8.4" fill="#c9c8cd"/>
<rect x="309.65" y="203.25" width="12.85" height="8.4" fill="#c9c8cd"/>
<rect x="324.05" y="203.25" width="12.85" height="8.4" fill="#c9c8cd"/>
<rect x="338.45" y="203.25" width="12.85" height="8.4" fill="#2c4b85"/>
<polygon transform="translate(344.88,207.45)" points="0.00,-1.75 0.47,-0.65 1.66,-0.54 0.76,0.25 1.03,1.42 0.00,0.80 -1.03,1.42 -0.76,0.25 -1.66,-0.54 -0.47,-0.65" fill="#fff"/>
<rect x="352.85" y="203.25" width="12.85" height="8.4" fill="#2c4b85"/>
<polygon transform="translate(359.28,207.45)" points="0.00,-1.75 0.47,-0.65 1.66,-0.54 0.76,0.25 1.03,1.42 0.00,0.80 -1.03,1.42 -0.76,0.25 -1.66,-0.54 -0.47,-0.65" fill="#fff"/>
<rect x="367.25" y="203.25" width="12.85" height="8.4" fill="#c9c8cd"/>
<rect x="381.65" y="203.25" width="12.85" height="8.4" fill="#c9c8cd"/>
<rect x="396.05" y="203.25" width="12.85" height="8.4" fill="#c9c8cd"/>
<rect x="410.45" y="203.25" width="12.85" height="8.4" fill="#c9c8cd"/>
<rect x="424.85" y="203.25" width="12.85" height="8.4" fill="#c9c8cd"/>
<rect x="439.25" y="203.25" width="12.85" height="8.4" fill="#c9c8cd"/>
<rect x="453.65" y="203.25" width="12.85" height="8.4" fill="#c9c8cd"/>
<text transform="translate(288.3,210.15) scale(0.94,1)" font-size="8.6" text-anchor="end" fill="#231f20" stroke="#231f20" stroke-width="0.18">Fam43a</text>
<rect x="470.00" y="204.55" width="5.67" height="5.8" fill="#2c4b85"/>
<rect x="295.25" y="212.60" width="12.85" height="8.4" fill="#2c4b85"/>
<rect x="309.65" y="212.60" width="12.85" height="8.4" fill="#c9c8cd"/>
<rect x="324.05" y="212.60" width="12.85" height="8.4" fill="#c9c8cd"/>
<rect x="338.45" y="212.60" width="12.85" height="8.4" fill="#c9c8cd"/>
<rect x="352.85" y="212.60" width="12.85" height="8.4" fill="#c9c8cd"/>
<rect x="367.25" y="212.60" width="12.85" height="8.4" fill="#2c4b85"/>
<polygon transform="translate(373.68,216.80)" points="0.00,-1.75 0.47,-0.65 1.66,-0.54 0.76,0.25 1.03,1.42 0.00,0.80 -1.03,1.42 -0.76,0.25 -1.66,-0.54 -0.47,-0.65" fill="#fff"/>
<rect x="381.65" y="212.60" width="12.85" height="8.4" fill="#c9c8cd"/>
<rect x="396.05" y="212.60" width="12.85" height="8.4" fill="#c9c8cd"/>
<rect x="410.45" y="212.60" width="12.85" height="8.4" fill="#c9c8cd"/>
<rect x="424.85" y="212.60" width="12.85" height="8.4" fill="#c9c8cd"/>
<rect x="439.25" y="212.60" width="12.85" height="8.4" fill="#c9c8cd"/>
<rect x="453.65" y="212.60" width="12.85" height="8.4" fill="#c9c8cd"/>
<text transform="translate(288.3,219.50) scale(0.94,1)" font-size="8.6" text-anchor="end" fill="#b5294e" stroke="#b5294e" stroke-width="0.18">Hist1h1c</text>
<path d="M244.40 213.40V220.00M242.40 215.38H246.40" stroke="#333" stroke-width="1.0" fill="none"/>
<rect x="470.00" y="213.90" width="5.67" height="5.8" fill="#2c4b85"/>
<rect x="295.25" y="221.95" width="12.85" height="8.4" fill="#c9c8cd"/>
<rect x="309.65" y="221.95" width="12.85" height="8.4" fill="#69a83c"/>
<polygon transform="translate(316.07,226.15)" points="0.00,-1.75 0.47,-0.65 1.66,-0.54 0.76,0.25 1.03,1.42 0.00,0.80 -1.03,1.42 -0.76,0.25 -1.66,-0.54 -0.47,-0.65" fill="#fff"/>
<rect x="324.05" y="221.95" width="12.85" height="8.4" fill="#c9c8cd"/>
<rect x="338.45" y="221.95" width="12.85" height="8.4" fill="#c9c8cd"/>
<rect x="352.85" y="221.95" width="12.85" height="8.4" fill="#2c4b85"/>
<rect x="367.25" y="221.95" width="12.85" height="8.4" fill="#c9c8cd"/>
<rect x="381.65" y="221.95" width="12.85" height="8.4" fill="#c9c8cd"/>
<rect x="396.05" y="221.95" width="12.85" height="8.4" fill="#c9c8cd"/>
<rect x="410.45" y="221.95" width="12.85" height="8.4" fill="#c9c8cd"/>
<rect x="424.85" y="221.95" width="12.85" height="8.4" fill="#c9c8cd"/>
<rect x="439.25" y="221.95" width="12.85" height="8.4" fill="#c9c8cd"/>
<rect x="453.65" y="221.95" width="12.85" height="8.4" fill="#c9c8cd"/>
<text transform="translate(288.3,228.85) scale(0.94,1)" font-size="8.6" text-anchor="end" fill="#231f20" stroke="#231f20" stroke-width="0.18">Man1a</text>
<rect x="470.00" y="223.25" width="2.83" height="5.8" fill="#2c4b85"/>
<rect x="472.83" y="223.25" width="2.83" height="5.8" fill="#69a83c"/>
<rect x="295.25" y="231.30" width="12.85" height="8.4" fill="#c9c8cd"/>
<rect x="309.65" y="231.30" width="12.85" height="8.4" fill="#2c4b85"/>
<polygon transform="translate(316.07,235.50)" points="0.00,-1.75 0.47,-0.65 1.66,-0.54 0.76,0.25 1.03,1.42 0.00,0.80 -1.03,1.42 -0.76,0.25 -1.66,-0.54 -0.47,-0.65" fill="#fff"/>
<rect x="324.05" y="231.30" width="12.85" height="8.4" fill="#c9c8cd"/>
<rect x="338.45" y="231.30" width="12.85" height="8.4" fill="#2c4b85"/>
<polygon transform="translate(344.88,235.50)" points="0.00,-1.75 0.47,-0.65 1.66,-0.54 0.76,0.25 1.03,1.42 0.00,0.80 -1.03,1.42 -0.76,0.25 -1.66,-0.54 -0.47,-0.65" fill="#fff"/>
<rect x="352.85" y="231.30" width="12.85" height="8.4" fill="#c9c8cd"/>
<rect x="367.25" y="231.30" width="12.85" height="8.4" fill="#c9c8cd"/>
<rect x="381.65" y="231.30" width="12.85" height="8.4" fill="#c9c8cd"/>
<rect x="396.05" y="231.30" width="12.85" height="8.4" fill="#c9c8cd"/>
<rect x="410.45" y="231.30" width="12.85" height="8.4" fill="#c9c8cd"/>
<rect x="424.85" y="231.30" width="12.85" height="8.4" fill="#c9c8cd"/>
<rect x="439.25" y="231.30" width="12.85" height="8.4" fill="#c9c8cd"/>
<rect x="453.65" y="231.30" width="12.85" height="8.4" fill="#c9c8cd"/>
<text transform="translate(288.3,238.20) scale(0.94,1)" font-size="8.6" text-anchor="end" fill="#231f20" stroke="#231f20" stroke-width="0.18">Map1a</text>
<rect x="470.00" y="232.60" width="5.67" height="5.8" fill="#2c4b85"/>
<rect x="295.25" y="240.65" width="12.85" height="8.4" fill="#2c4b85"/>
<polygon transform="translate(301.68,244.85)" points="0.00,-1.75 0.47,-0.65 1.66,-0.54 0.76,0.25 1.03,1.42 0.00,0.80 -1.03,1.42 -0.76,0.25 -1.66,-0.54 -0.47,-0.65" fill="#fff"/>
<rect x="309.65" y="240.65" width="12.85" height="8.4" fill="#c9c8cd"/>
<rect x="324.05" y="240.65" width="12.85" height="8.4" fill="#c9c8cd"/>
<rect x="338.45" y="240.65" width="12.85" height="8.4" fill="#e3901f"/>
<rect x="352.85" y="240.65" width="12.85" height="8.4" fill="#c9c8cd"/>
<rect x="367.25" y="240.65" width="12.85" height="8.4" fill="#c9c8cd"/>
<rect x="381.65" y="240.65" width="12.85" height="8.4" fill="#c9c8cd"/>
<rect x="396.05" y="240.65" width="12.85" height="8.4" fill="#c9c8cd"/>
<rect x="410.45" y="240.65" width="12.85" height="8.4" fill="#c9c8cd"/>
<rect x="424.85" y="240.65" width="12.85" height="8.4" fill="#c9c8cd"/>
<rect x="439.25" y="240.65" width="12.85" height="8.4" fill="#c9c8cd"/>
<rect x="453.65" y="240.65" width="12.85" height="8.4" fill="#c9c8cd"/>
<text transform="translate(288.3,247.55) scale(0.94,1)" font-size="8.6" text-anchor="end" fill="#231f20" stroke="#231f20" stroke-width="0.18">Mrps18b</text>
<rect x="470.00" y="241.95" width="2.83" height="5.8" fill="#2c4b85"/>
<rect x="472.83" y="241.95" width="2.83" height="5.8" fill="#e3901f"/>
<rect x="295.25" y="250.00" width="12.85" height="8.4" fill="#c9c8cd"/>
<rect x="309.65" y="250.00" width="12.85" height="8.4" fill="#2c4b85"/>
<polygon transform="translate(316.07,254.20)" points="0.00,-1.75 0.47,-0.65 1.66,-0.54 0.76,0.25 1.03,1.42 0.00,0.80 -1.03,1.42 -0.76,0.25 -1.66,-0.54 -0.47,-0.65" fill="#fff"/>
<rect x="324.05" y="250.00" width="12.85" height="8.4" fill="#c9c8cd"/>
<rect x="338.45" y="250.00" width="12.85" height="8.4" fill="#c9c8cd"/>
<rect x="352.85" y="250.00" width="12.85" height="8.4" fill="#c9c8cd"/>
<rect x="367.25" y="250.00" width="12.85" height="8.4" fill="#2c4b85"/>
<rect x="381.65" y="250.00" width="12.85" height="8.4" fill="#c9c8cd"/>
<rect x="396.05" y="250.00" width="12.85" height="8.4" fill="#c9c8cd"/>
<rect x="410.45" y="250.00" width="12.85" height="8.4" fill="#c9c8cd"/>
<rect x="424.85" y="250.00" width="12.85" height="8.4" fill="#c9c8cd"/>
<rect x="439.25" y="250.00" width="12.85" height="8.4" fill="#c9c8cd"/>
<rect x="453.65" y="250.00" width="12.85" height="8.4" fill="#c9c8cd"/>
<text transform="translate(288.3,256.90) scale(0.94,1)" font-size="8.6" text-anchor="end" fill="#231f20" stroke="#231f20" stroke-width="0.18">Sgpp1</text>
<rect x="470.00" y="251.30" width="5.67" height="5.8" fill="#2c4b85"/>
<rect x="295.25" y="259.35" width="12.85" height="8.4" fill="#e3901f"/>
<polygon transform="translate(301.68,263.55)" points="0.00,-1.75 0.47,-0.65 1.66,-0.54 0.76,0.25 1.03,1.42 0.00,0.80 -1.03,1.42 -0.76,0.25 -1.66,-0.54 -0.47,-0.65" fill="#fff"/>
<rect x="309.65" y="259.35" width="12.85" height="8.4" fill="#c9c8cd"/>
<rect x="324.05" y="259.35" width="12.85" height="8.4" fill="#2c4b85"/>
<polygon transform="translate(330.48,263.55)" points="0.00,-1.75 0.47,-0.65 1.66,-0.54 0.76,0.25 1.03,1.42 0.00,0.80 -1.03,1.42 -0.76,0.25 -1.66,-0.54 -0.47,-0.65" fill="#fff"/>
<rect x="338.45" y="259.35" width="12.85" height="8.4" fill="#c9c8cd"/>
<rect x="352.85" y="259.35" width="12.85" height="8.4" fill="#c9c8cd"/>
<rect x="367.25" y="259.35" width="12.85" height="8.4" fill="#c9c8cd"/>
<rect x="381.65" y="259.35" width="12.85" height="8.4" fill="#c9c8cd"/>
<rect x="396.05" y="259.35" width="12.85" height="8.4" fill="#c9c8cd"/>
<rect x="410.45" y="259.35" width="12.85" height="8.4" fill="#c9c8cd"/>
<rect x="424.85" y="259.35" width="12.85" height="8.4" fill="#c9c8cd"/>
<rect x="439.25" y="259.35" width="12.85" height="8.4" fill="#c9c8cd"/>
<rect x="453.65" y="259.35" width="12.85" height="8.4" fill="#c9c8cd"/>
<text transform="translate(288.3,266.25) scale(0.94,1)" font-size="8.6" text-anchor="end" fill="#231f20" stroke="#231f20" stroke-width="0.18">Snx5</text>
<rect x="470.00" y="260.65" width="2.83" height="5.8" fill="#2c4b85"/>
<rect x="472.83" y="260.65" width="2.83" height="5.8" fill="#e3901f"/>
<rect x="295.25" y="268.70" width="12.85" height="8.4" fill="#c9c8cd"/>
<rect x="309.65" y="268.70" width="12.85" height="8.4" fill="#c9c8cd"/>
<rect x="324.05" y="268.70" width="12.85" height="8.4" fill="#c9c8cd"/>
<rect x="338.45" y="268.70" width="12.85" height="8.4" fill="#e3901f"/>
<rect x="352.85" y="268.70" width="12.85" height="8.4" fill="#c9c8cd"/>
<rect x="367.25" y="268.70" width="12.85" height="8.4" fill="#c9c8cd"/>
<rect x="381.65" y="268.70" width="12.85" height="8.4" fill="#2c4b85"/>
<rect x="396.05" y="268.70" width="12.85" height="8.4" fill="#c9c8cd"/>
<rect x="410.45" y="268.70" width="12.85" height="8.4" fill="#c9c8cd"/>
<rect x="424.85" y="268.70" width="12.85" height="8.4" fill="#c9c8cd"/>
<rect x="439.25" y="268.70" width="12.85" height="8.4" fill="#c9c8cd"/>
<rect x="453.65" y="268.70" width="12.85" height="8.4" fill="#c9c8cd"/>
<text transform="translate(288.3,275.60) scale(0.94,1)" font-size="8.6" text-anchor="end" fill="#231f20" stroke="#231f20" stroke-width="0.18">Sycp2</text>
<rect x="470.00" y="270.00" width="2.83" height="5.8" fill="#2c4b85"/>
<rect x="472.83" y="270.00" width="2.83" height="5.8" fill="#e3901f"/>
<rect x="295.25" y="278.05" width="12.85" height="8.4" fill="#c9c8cd"/>
<rect x="309.65" y="278.05" width="12.85" height="8.4" fill="#c9c8cd"/>
<rect x="324.05" y="278.05" width="12.85" height="8.4" fill="#2c4b85"/>
<polygon transform="translate(330.48,282.25)" points="0.00,-1.75 0.47,-0.65 1.66,-0.54 0.76,0.25 1.03,1.42 0.00,0.80 -1.03,1.42 -0.76,0.25 -1.66,-0.54 -0.47,-0.65" fill="#fff"/>
<rect x="338.45" y="278.05" width="12.85" height="8.4" fill="#c9c8cd"/>
<rect x="352.85" y="278.05" width="12.85" height="8.4" fill="#2c4b85"/>
<polygon transform="translate(359.28,282.25)" points="0.00,-1.75 0.47,-0.65 1.66,-0.54 0.76,0.25 1.03,1.42 0.00,0.80 -1.03,1.42 -0.76,0.25 -1.66,-0.54 -0.47,-0.65" fill="#fff"/>
<rect x="367.25" y="278.05" width="12.85" height="8.4" fill="#c9c8cd"/>
<rect x="381.65" y="278.05" width="12.85" height="8.4" fill="#c9c8cd"/>
<rect x="396.05" y="278.05" width="12.85" height="8.4" fill="#c9c8cd"/>
<rect x="410.45" y="278.05" width="12.85" height="8.4" fill="#c9c8cd"/>
<rect x="424.85" y="278.05" width="12.85" height="8.4" fill="#c9c8cd"/>
<rect x="439.25" y="278.05" width="12.85" height="8.4" fill="#c9c8cd"/>
<rect x="453.65" y="278.05" width="12.85" height="8.4" fill="#c9c8cd"/>
<text transform="translate(288.3,284.95) scale(0.94,1)" font-size="8.6" text-anchor="end" fill="#231f20" stroke="#231f20" stroke-width="0.18">Tbx21</text>
<rect x="470.00" y="279.35" width="5.67" height="5.8" fill="#2c4b85"/>
<rect x="295.25" y="287.40" width="12.85" height="8.4" fill="#c9c8cd"/>
<rect x="309.65" y="287.40" width="12.85" height="8.4" fill="#c9c8cd"/>
<rect x="324.05" y="287.40" width="12.85" height="8.4" fill="#c9c8cd"/>
<rect x="338.45" y="287.40" width="12.85" height="8.4" fill="#2c4b85"/>
<polygon transform="translate(344.88,291.60)" points="0.00,-1.75 0.47,-0.65 1.66,-0.54 0.76,0.25 1.03,1.42 0.00,0.80 -1.03,1.42 -0.76,0.25 -1.66,-0.54 -0.47,-0.65" fill="#fff"/>
<rect x="352.85" y="287.40" width="12.85" height="8.4" fill="#c9c8cd"/>
<rect x="367.25" y="287.40" width="12.85" height="8.4" fill="#c9c8cd"/>
<rect x="381.65" y="287.40" width="12.85" height="8.4" fill="#c9c8cd"/>
<rect x="396.05" y="287.40" width="12.85" height="8.4" fill="#c9c8cd"/>
<rect x="410.45" y="287.40" width="12.85" height="8.4" fill="#c9c8cd"/>
<rect x="424.85" y="287.40" width="12.85" height="8.4" fill="#2c4b85"/>
<polygon transform="translate(431.28,291.60)" points="0.00,-1.75 0.47,-0.65 1.66,-0.54 0.76,0.25 1.03,1.42 0.00,0.80 -1.03,1.42 -0.76,0.25 -1.66,-0.54 -0.47,-0.65" fill="#fff"/>
<rect x="439.25" y="287.40" width="12.85" height="8.4" fill="#c9c8cd"/>
<rect x="453.65" y="287.40" width="12.85" height="8.4" fill="#c9c8cd"/>
<text transform="translate(288.3,294.30) scale(0.94,1)" font-size="8.6" text-anchor="end" fill="#b5294e" stroke="#b5294e" stroke-width="0.18">Ehd1</text>
<rect x="470.00" y="288.70" width="5.67" height="5.8" fill="#2c4b85"/>
<rect x="295.25" y="296.75" width="12.85" height="8.4" fill="#c9c8cd"/>
<rect x="309.65" y="296.75" width="12.85" height="8.4" fill="#c9c8cd"/>
<rect x="324.05" y="296.75" width="12.85" height="8.4" fill="#c9c8cd"/>
<rect x="338.45" y="296.75" width="12.85" height="8.4" fill="#c9c8cd"/>
<rect x="352.85" y="296.75" width="12.85" height="8.4" fill="#2c4b85"/>
<polygon transform="translate(359.28,300.95)" points="0.00,-1.75 0.47,-0.65 1.66,-0.54 0.76,0.25 1.03,1.42 0.00,0.80 -1.03,1.42 -0.76,0.25 -1.66,-0.54 -0.47,-0.65" fill="#fff"/>
<rect x="367.25" y="296.75" width="12.85" height="8.4" fill="#c9c8cd"/>
<rect x="381.65" y="296.75" width="12.85" height="8.4" fill="#c9c8cd"/>
<rect x="396.05" y="296.75" width="12.85" height="8.4" fill="#c9c8cd"/>
<rect x="410.45" y="296.75" width="12.85" height="8.4" fill="#2c4b85"/>
<rect x="424.85" y="296.75" width="12.85" height="8.4" fill="#c9c8cd"/>
<rect x="439.25" y="296.75" width="12.85" height="8.4" fill="#c9c8cd"/>
<rect x="453.65" y="296.75" width="12.85" height="8.4" fill="#c9c8cd"/>
<text transform="translate(288.3,303.65) scale(0.94,1)" font-size="8.6" text-anchor="end" fill="#b5294e" stroke="#b5294e" stroke-width="0.18">Hist1h1b</text>
<path d="M244.40 297.55V304.15M242.40 299.53H246.40" stroke="#333" stroke-width="1.0" fill="none"/>
<rect x="470.00" y="298.05" width="5.67" height="5.8" fill="#2c4b85"/>
<rect x="295.25" y="306.10" width="12.85" height="8.4" fill="#c9c8cd"/>
<rect x="309.65" y="306.10" width="12.85" height="8.4" fill="#c9c8cd"/>
<rect x="324.05" y="306.10" width="12.85" height="8.4" fill="#2c4b85"/>
<polygon transform="translate(330.48,310.30)" points="0.00,-1.75 0.47,-0.65 1.66,-0.54 0.76,0.25 1.03,1.42 0.00,0.80 -1.03,1.42 -0.76,0.25 -1.66,-0.54 -0.47,-0.65" fill="#fff"/>
<rect x="338.45" y="306.10" width="12.85" height="8.4" fill="#c9c8cd"/>
<rect x="352.85" y="306.10" width="12.85" height="8.4" fill="#c9c8cd"/>
<rect x="367.25" y="306.10" width="12.85" height="8.4" fill="#c9c8cd"/>
<rect x="381.65" y="306.10" width="12.85" height="8.4" fill="#c9c8cd"/>
<rect x="396.05" y="306.10" width="12.85" height="8.4" fill="#c9c8cd"/>
<rect x="410.45" y="306.10" width="12.85" height="8.4" fill="#c9c8cd"/>
<rect x="424.85" y="306.10" width="12.85" height="8.4" fill="#2c4b85"/>
<polygon transform="translate(431.28,310.30)" points="0.00,-1.75 0.47,-0.65 1.66,-0.54 0.76,0.25 1.03,1.42 0.00,0.80 -1.03,1.42 -0.76,0.25 -1.66,-0.54 -0.47,-0.65" fill="#fff"/>
<rect x="439.25" y="306.10" width="12.85" height="8.4" fill="#c9c8cd"/>
<rect x="453.65" y="306.10" width="12.85" height="8.4" fill="#c9c8cd"/>
<text transform="translate(288.3,313.00) scale(0.94,1)" font-size="8.6" text-anchor="end" fill="#231f20" stroke="#231f20" stroke-width="0.18">Hist1h1d</text>
<path d="M244.40 306.90V313.50M242.40 308.88H246.40" stroke="#333" stroke-width="1.0" fill="none"/>
<rect x="470.00" y="307.40" width="5.67" height="5.8" fill="#2c4b85"/>
<line x1="409.4" y1="72" x2="409.4" y2="314.3" stroke="#000" stroke-width="1.3"/>
<line x1="469.5" y1="72" x2="469.5" y2="314.3" stroke="#000" stroke-width="1"/>
<line x1="469" y1="313.8" x2="507.2" y2="313.8" stroke="#000" stroke-width="1"/>
<line x1="469.5" y1="313.8" x2="469.5" y2="317.4" stroke="#000" stroke-width="1"/>
<text x="469.8" y="327.5" font-size="8.3" text-anchor="middle" fill="#231f20" stroke="#231f20" stroke-width="0.18" textLength="4.1" lengthAdjust="spacingAndGlyphs">0</text>
<line x1="487" y1="313.8" x2="487" y2="317.4" stroke="#000" stroke-width="1"/>
<text x="486.9" y="327.5" font-size="8.3" text-anchor="middle" fill="#231f20" stroke="#231f20" stroke-width="0.18" textLength="7.8" lengthAdjust="spacingAndGlyphs">50</text>
<line x1="504.6" y1="313.8" x2="504.6" y2="317.4" stroke="#000" stroke-width="1"/>
<text x="504.85" y="327.5" font-size="8.3" text-anchor="middle" fill="#231f20" stroke="#231f20" stroke-width="0.18" textLength="11.9" lengthAdjust="spacingAndGlyphs">100</text>
<text x="488.1" y="340" font-size="8.5" text-anchor="middle" fill="#231f20" stroke="#231f20" stroke-width="0.18" textLength="39.2" lengthAdjust="spacingAndGlyphs">% of tumors</text>
<text transform="translate(304.68,317.8) rotate(-90)" font-size="8.3" text-anchor="end" fill="#231f20" stroke="#231f20" stroke-width="0.18" textLength="16.6" lengthAdjust="spacingAndGlyphs">1182</text>
<text transform="translate(319.07,317.8) rotate(-90)" font-size="8.3" text-anchor="end" fill="#231f20" stroke="#231f20" stroke-width="0.18" textLength="13.2" lengthAdjust="spacingAndGlyphs">950</text>
<text transform="translate(333.48,317.8) rotate(-90)" font-size="8.3" text-anchor="end" fill="#231f20" stroke="#231f20" stroke-width="0.18" textLength="16.6" lengthAdjust="spacingAndGlyphs">1083</text>
<text transform="translate(347.88,317.8) rotate(-90)" font-size="8.3" text-anchor="end" fill="#231f20" stroke="#231f20" stroke-width="0.18" textLength="16.6" lengthAdjust="spacingAndGlyphs">1074</text>
<text transform="translate(362.28,317.8) rotate(-90)" font-size="8.3" text-anchor="end" fill="#231f20" stroke="#231f20" stroke-width="0.18" textLength="16.6" lengthAdjust="spacingAndGlyphs">1084</text>
<text transform="translate(376.68,317.8) rotate(-90)" font-size="8.3" text-anchor="end" fill="#231f20" stroke="#231f20" stroke-width="0.18" textLength="13.2" lengthAdjust="spacingAndGlyphs">786</text>
<text transform="translate(391.07,317.8) rotate(-90)" font-size="8.3" text-anchor="end" fill="#231f20" stroke="#231f20" stroke-width="0.18" textLength="16.6" lengthAdjust="spacingAndGlyphs">1078</text>
<text transform="translate(405.48,317.8) rotate(-90)" font-size="8.3" text-anchor="end" fill="#231f20" stroke="#231f20" stroke-width="0.18" textLength="16.6" lengthAdjust="spacingAndGlyphs">1032</text>
<text transform="translate(419.88,317.8) rotate(-90)" font-size="8.3" text-anchor="end" fill="#231f20" stroke="#231f20" stroke-width="0.18" textLength="16.6" lengthAdjust="spacingAndGlyphs">1385</text>
<text transform="translate(434.28,317.8) rotate(-90)" font-size="8.3" text-anchor="end" fill="#231f20" stroke="#231f20" stroke-width="0.18" textLength="16.6" lengthAdjust="spacingAndGlyphs">1236</text>
<text transform="translate(448.68,317.8) rotate(-90)" font-size="8.3" text-anchor="end" fill="#231f20" stroke="#231f20" stroke-width="0.18" textLength="16.6" lengthAdjust="spacingAndGlyphs">1237</text>
<text transform="translate(463.07,317.8) rotate(-90)" font-size="8.3" text-anchor="end" fill="#231f20" stroke="#231f20" stroke-width="0.18" textLength="16.6" lengthAdjust="spacingAndGlyphs">1289</text>
<line x1="214.4" y1="73" x2="214.4" y2="312.7" stroke="#222" stroke-width="1"/>
<line x1="232.6" y1="73" x2="232.6" y2="284.7" stroke="#222" stroke-width="1"/>
<text transform="translate(209,191) rotate(-90)" font-size="8.5" text-anchor="middle" fill="#231f20" stroke="#231f20" stroke-width="0.18" textLength="196" lengthAdjust="spacingAndGlyphs">Recurrently mutated among whole samples (26 genes)</text>
<text transform="translate(228.2,309.2) rotate(-90)" font-size="8.5" text-anchor="start" fill="#231f20" stroke="#231f20" stroke-width="0.18" textLength="165.8" lengthAdjust="spacingAndGlyphs">Recurrently mutated among CD19-cre-HOIP/</text>
<text transform="translate(228.2,143.4) rotate(-90)" font-size="8.5" text-anchor="start" fill="#231f20" stroke="#231f20" stroke-width="0.18" textLength="70.6" lengthAdjust="spacingAndGlyphs">MYD88LP (23 genes)</text>
<path d="M238.90 354.50V361.10M236.90 356.48H240.90" stroke="#b5294e" stroke-width="1.0" fill="none"/>
<text x="244.4" y="356.0" font-size="8.5" text-anchor="start" fill="#231f20" stroke="#231f20" stroke-width="0.18" textLength="97.1" lengthAdjust="spacingAndGlyphs">Genes frequently altered in</text>
<text x="244.4" y="365.3" font-size="8.5" text-anchor="start" fill="#231f20" stroke="#231f20" stroke-width="0.18" textLength="46.8" lengthAdjust="spacingAndGlyphs">ABC-DLBCLs</text>
<path d="M238.90 375.70V382.30M236.90 377.68H240.90" stroke="#5a7ab8" stroke-width="1.0" fill="none"/>
<text x="244.4" y="377.2" font-size="8.5" text-anchor="start" fill="#231f20" stroke="#231f20" stroke-width="0.18" textLength="97.1" lengthAdjust="spacingAndGlyphs">Genes frequently altered in</text>
<text x="244.4" y="386.5" font-size="8.5" text-anchor="start" fill="#231f20" stroke="#231f20" stroke-width="0.18" textLength="46.8" lengthAdjust="spacingAndGlyphs">GCB-DLBCLs</text>
<path d="M238.90 396.90V403.50M236.90 398.88H240.90" stroke="#231f20" stroke-width="1.0" fill="none"/>
<text x="244.4" y="398.4" font-size="8.5" text-anchor="start" fill="#231f20" stroke="#231f20" stroke-width="0.18" textLength="93.3" lengthAdjust="spacingAndGlyphs">Previously reported tumor</text>
<text x="244.4" y="407.7" font-size="8.5" text-anchor="start" fill="#231f20" stroke="#231f20" stroke-width="0.18" textLength="96.4" lengthAdjust="spacingAndGlyphs">driver mutations in DLBCLs</text>
<rect x="371.8" y="349.80" width="11" height="6.9" fill="#2c4b85"/>
<text x="385.7" y="356.3" font-size="8.5" text-anchor="start" fill="#231f20" stroke="#231f20" stroke-width="0.18" textLength="77.6" lengthAdjust="spacingAndGlyphs">Nonsynonymous SNV</text>
<rect x="371.8" y="361.35" width="11" height="6.9" fill="#b0102c"/>
<text x="385.7" y="367.85" font-size="8.5" text-anchor="start" fill="#231f20" stroke="#231f20" stroke-width="0.18" textLength="112.1" lengthAdjust="spacingAndGlyphs">Frameshift insertion or deletion</text>
<rect x="371.8" y="372.90" width="11" height="6.9" fill="#e3901f"/>
<text x="385.7" y="379.4" font-size="8.5" text-anchor="start" fill="#231f20" stroke="#231f20" stroke-width="0.18" textLength="31.8" lengthAdjust="spacingAndGlyphs">Stopgain</text>
<rect x="371.8" y="384.45" width="11" height="6.9" fill="#cc0a7a"/>
<text x="385.7" y="390.95" font-size="8.5" text-anchor="start" fill="#231f20" stroke="#231f20" stroke-width="0.18" textLength="35.8" lengthAdjust="spacingAndGlyphs">Splice site</text>
<rect x="371.8" y="396.00" width="11" height="6.9" fill="#69a83c"/>
<text x="385.7" y="402.5" font-size="8.5" text-anchor="start" fill="#231f20" stroke="#231f20" stroke-width="0.18" textLength="29" lengthAdjust="spacingAndGlyphs">Multiple</text>
<circle cx="377.8" cy="409.6" r="0.95" fill="#231f20"/>
<text x="385.7" y="413.3" font-size="8.5" text-anchor="start" fill="#231f20" stroke="#231f20" stroke-width="0.18" textLength="127" lengthAdjust="spacingAndGlyphs">Allele frequency &gt; 0.05, and &lt;= 0.2</text>
<text x="237" y="430.5" font-size="8.5" fill="#231f20" stroke="#231f20" stroke-width="0.18" textLength="250" lengthAdjust="spacingAndGlyphs"><tspan fill="#b5294e" stroke="#b5294e">Red:</tspan> Target genes of aberrant somatic hypermutation induced by AID</text>
</g>
</svg></body></html>
